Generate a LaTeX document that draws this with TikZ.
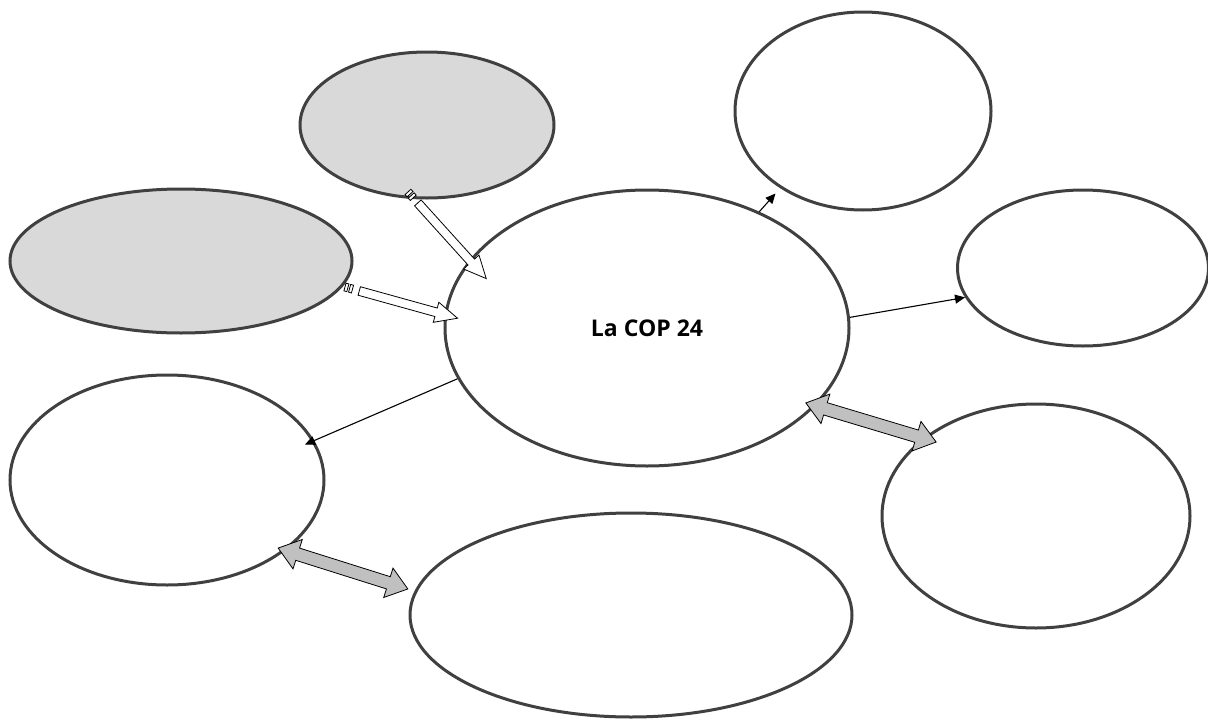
\documentclass[tikz,border=0pt]{standalone}
\usepackage{fontspec}
\newfontfamily\copfont{Open Sans}
\usetikzlibrary{shapes.geometric,shapes.arrows,arrows.meta}

\definecolor{rim}{RGB}{64,64,64}
\definecolor{shade}{RGB}{217,217,217}
\definecolor{arrowgrey}{RGB}{192,192,192}

\tikzset{
  bubble/.style={ellipse, draw=rim, line width=3, inner sep=0, fill=white},
  thinarrow/.style={line width=1.1, -{Triangle[length=10,width=9]}},
  hollowarrow/.style={single arrow, draw=black, fill=white, line width=0.8, inner sep=4,
    single arrow head extend=6, single arrow tip angle=50},
  stripe/.style={rectangle, draw=black, fill=white, line width=0.8, inner sep=0,
    minimum width=3, minimum height=8},
  bothways/.style={double arrow, draw=black, fill=arrowgrey, line width=0.8, inner sep=6,
    double arrow head extend=9, double arrow tip angle=74},
}

\begin{document}
\begin{tikzpicture}[x=1pt,y=1pt,yscale=-1]
  \useasboundingbox (0,0) rectangle (1208,720);

  %Shape: Ellipse (shaded)
  \node[bubble, fill=shade, minimum width=254, minimum height=146] (shadeTop) at (427,125) {};
  \node[bubble, fill=shade, minimum width=342, minimum height=144] (shadeLeft) at (181,261) {};
  %Shape: Ellipse (centre)
  \node[bubble, minimum width=404, minimum height=276,
        font=\copfont\bfseries\fontsize{23}{27}\selectfont] (cop) at (647,328) {La COP 24};
  %Shape: Ellipse (empty)
  \node[bubble, minimum width=256, minimum height=198] (outNE) at (863,111) {};
  \node[bubble, minimum width=251, minimum height=156] (outE) at (1083,268) {};
  \node[bubble, minimum width=314, minimum height=210] (outW) at (167,480) {};
  \node[bubble, minimum width=442, minimum height=204] (outS) at (631,615) {};
  \node[bubble, minimum width=308, minimum height=224] (outSE) at (1036,516) {};

  %Straight Lines
  \draw[thinarrow, shorten >=-10] (cop.195) -- (outW.15);
  \draw[thinarrow] (cop.3) -- (outE.194);
  \draw[thinarrow, shorten >=7] (cop.46) -- (outNE.223);

  %Striped arrows
  \coordinate (tailA) at (408,192);
  \coordinate (headA) at (483,275);
  \coordinate (tailB) at (345,287);
  \coordinate (headB) at (453,317);
  \path (tailA) -- node[pos=0.545, hollowarrow, rotate=-47.9, minimum height=102] {}
                   node[pos=0.013, stripe, rotate=-47.9] {}
                   node[pos=0.056, stripe, rotate=-47.9] {} (headA);
  \path (tailB) -- node[pos=0.545, hollowarrow, rotate=-15.5, minimum height=102] {}
                   node[pos=0.013, stripe, rotate=-15.5] {}
                   node[pos=0.056, stripe, rotate=-15.5] {} (headB);

  %Double arrows
  \coordinate (endE1) at (806,403);
  \coordinate (endE2) at (936,442);
  \coordinate (endW1) at (278,548);
  \coordinate (endW2) at (408,589);
  \path (endE1) -- node[bothways, rotate=-16.7, minimum height=136] {} (endE2);
  \path (endW1) -- node[bothways, rotate=-17.5, minimum height=136] {} (endW2);
\end{tikzpicture}
\end{document}
